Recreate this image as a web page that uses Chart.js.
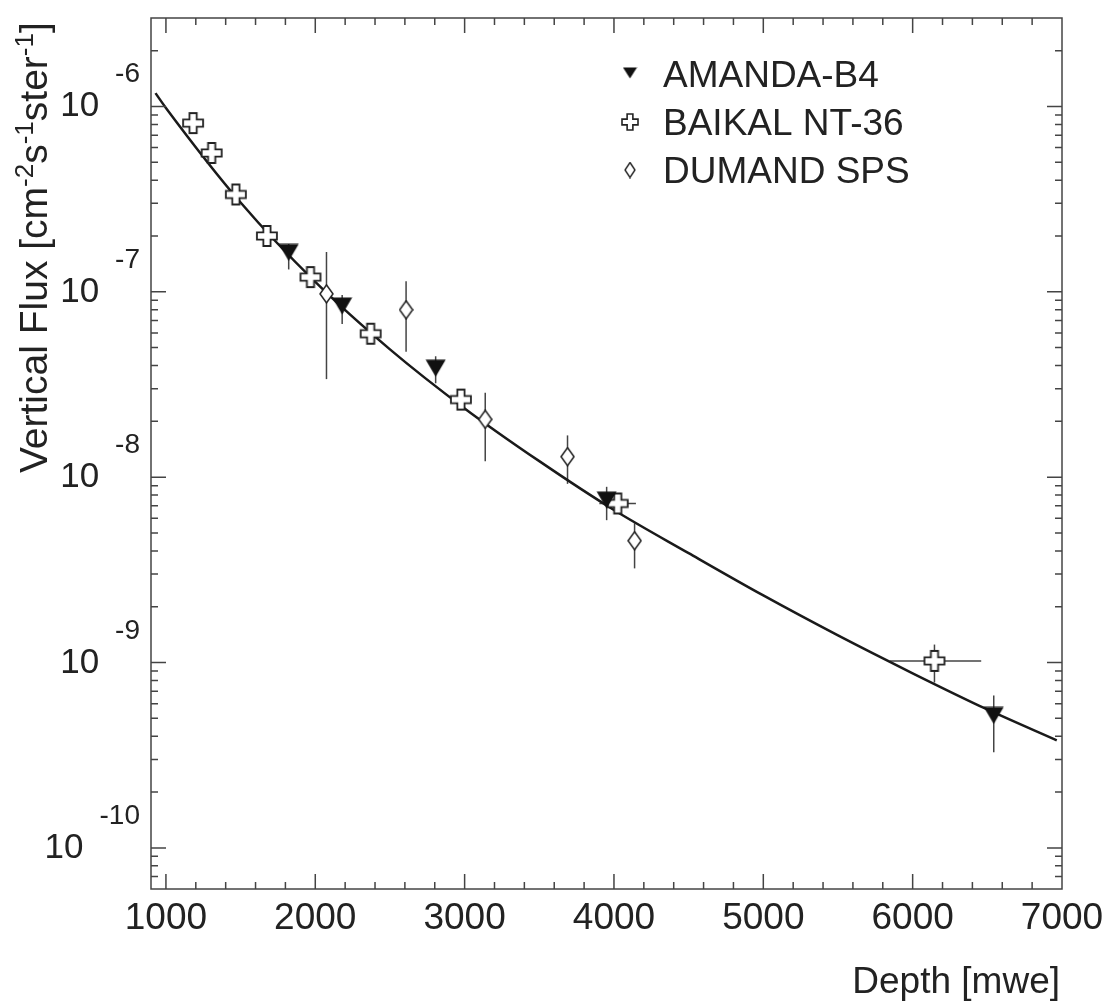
<!DOCTYPE html>
<html lang="en">
<head>
  <meta charset="UTF-8">
  <title>Vertical muon flux vs depth</title>
  <script src="https://cdn.jsdelivr.net/npm/chart.js"></script>
  <style>
    body { margin: 0; background: #fff; }
    canvas { display: block; }
  </style>
</head>
<body>
  <canvas id="fluxChart" width="1109" height="1004"></canvas>

  <script>
    // fitted depth-intensity curve
    const curveDepth = [930, 1000, 1500, 2000, 2500, 3000, 3500, 4000, 4500, 5000, 5500, 6000, 6500, 6965];
    const curveFlux = [1.18e-6, 9.82e-7, 3.03e-7, 1.13e-7, 4.89e-8, 2.35e-8, 1.22e-8, 6.65e-9, 3.89e-9, 2.30e-9, 1.40e-9, 8.75e-10, 5.58e-10, 3.80e-10];

    // AMANDA-B4
    const amandaDepth = [1822, 2180, 2806, 3951, 6543];
    const amandaFlux = [1.63e-7, 8.38e-8, 3.87e-8, 7.52e-9, 5.18e-10];
    const amandaLo = [1.32e-7, 6.71e-8, 3.21e-8, 5.86e-9, 3.28e-10];
    const amandaHi = [1.81e-7, 9.60e-8, 4.49e-8, 8.87e-9, 6.64e-10];

    // BAIKAL NT-36
    const baikalDepth = [1182, 1306, 1468, 1676, 1968, 2371, 2975, 4025, 6146];
    const baikalFlux = [8.13e-7, 5.61e-7, 3.35e-7, 2.00e-7, 1.20e-7, 5.94e-8, 2.62e-8, 7.21e-9, 1.02e-9];
    const baikalLo = [null, null, null, null, null, null, null, null, 7.80e-10];
    const baikalHi = [null, null, null, null, null, null, null, null, 1.25e-9];
    const baikalDepthLo = [null, null, null, null, null, null, null, 3902, 5846];
    const baikalDepthHi = [null, null, null, null, null, null, null, 4147, 6459];

    // DUMAND SPS
    const dumandDepth = [2075, 2608, 3138, 3689, 4138];
    const dumandFlux = [9.75e-8, 8.00e-8, 2.05e-8, 1.29e-8, 4.54e-9];
    const dumandLo = [3.38e-8, 4.75e-8, 1.22e-8, 9.20e-9, 3.22e-9];
    const dumandHi = [1.64e-7, 1.14e-7, 2.85e-8, 1.68e-8, 5.64e-9];

    const xTicks = [1000, 2000, 3000, 4000, 5000, 6000, 7000];
    const yTicks = [1e-10, 1e-9, 1e-8, 1e-7, 1e-6];
    const yTickExp = ['-10', '-9', '-8', '-7', '-6'];

    const FONT = '"Liberation Sans", Arial, sans-serif';
    const INK = '#222';

    function pts(xs, ys) {
      return xs.map((x, i) => ({ x: x, y: ys[i] }));
    }

    // marker images
    function triangleMarker(w, h) {
      const c = document.createElement('canvas');
      c.width = w; c.height = h;
      const g = c.getContext('2d');
      g.fillStyle = '#111';
      g.beginPath();
      g.moveTo(0.5, 0.5);
      g.lineTo(w - 0.5, 0.5);
      g.lineTo(w / 2, h - 0.5);
      g.closePath();
      g.fill();
      return c;
    }

    function crossMarker(w, lw) {
      const s = w + 4;
      const c = document.createElement('canvas');
      c.width = s; c.height = s;
      const g = c.getContext('2d');
      const m = s / 2, a = w / 2, b = w * 0.18;
      g.beginPath();
      g.moveTo(m - b, m - a); g.lineTo(m + b, m - a); g.lineTo(m + b, m - b);
      g.lineTo(m + a, m - b); g.lineTo(m + a, m + b); g.lineTo(m + b, m + b);
      g.lineTo(m + b, m + a); g.lineTo(m - b, m + a); g.lineTo(m - b, m + b);
      g.lineTo(m - a, m + b); g.lineTo(m - a, m - b); g.lineTo(m - b, m - b);
      g.closePath();
      g.fillStyle = '#fff';
      g.fill();
      g.lineWidth = lw;
      g.strokeStyle = '#222';
      g.stroke();
      return c;
    }

    function diamondMarker(w, h, lw) {
      const c = document.createElement('canvas');
      c.width = w + 2; c.height = h + 2;
      const g = c.getContext('2d');
      const cx = (w + 2) / 2, cy = (h + 2) / 2;
      g.beginPath();
      g.moveTo(cx, cy - h / 2); g.lineTo(cx + w / 2, cy);
      g.lineTo(cx, cy + h / 2); g.lineTo(cx - w / 2, cy);
      g.closePath();
      g.fillStyle = '#fff';
      g.fill();
      g.lineWidth = lw;
      g.strokeStyle = '#222';
      g.stroke();
      return c;
    }

    const triBig = triangleMarker(21, 18);
    const crossBig = crossMarker(20, 1.8);
    const diaBig = diamondMarker(13, 18, 1.5);
    const triSmall = triangleMarker(15, 12);
    const crossSmall = crossMarker(16, 1.6);
    const diaSmall = diamondMarker(10, 15, 1.4);

    function drawText(ctx, s, x, y, size, align) {
      ctx.font = size + 'px ' + FONT;
      ctx.textAlign = align || 'left';
      ctx.textBaseline = 'alphabetic';
      ctx.fillText(s, x, y);
    }

    const errorBars = {
      id: 'errorBars',
      beforeDatasetsDraw(chart) {
        const ctx = chart.ctx, xs = chart.scales.x, ys = chart.scales.y;
        ctx.save();
        ctx.strokeStyle = '#444';
        ctx.lineWidth = 1.5;
        function vbar(x, lo, hi) {
          if (lo == null || hi == null) return;
          const px = xs.getPixelForValue(x);
          ctx.beginPath();
          ctx.moveTo(px, ys.getPixelForValue(lo));
          ctx.lineTo(px, ys.getPixelForValue(hi));
          ctx.stroke();
        }
        function hbar(y, lo, hi) {
          if (lo == null || hi == null) return;
          const py = ys.getPixelForValue(y);
          ctx.beginPath();
          ctx.moveTo(xs.getPixelForValue(lo), py);
          ctx.lineTo(xs.getPixelForValue(hi), py);
          ctx.stroke();
        }
        amandaDepth.forEach((d, i) => vbar(d, amandaLo[i], amandaHi[i]));
        dumandDepth.forEach((d, i) => vbar(d, dumandLo[i], dumandHi[i]));
        baikalDepth.forEach((d, i) => {
          vbar(d, baikalLo[i], baikalHi[i]);
          hbar(baikalFlux[i], baikalDepthLo[i], baikalDepthHi[i]);
        });
        ctx.restore();
      }
    };

    const frameAndLabels = {
      id: 'frameAndLabels',
      afterDraw(chart) {
        const ctx = chart.ctx, xs = chart.scales.x, ys = chart.scales.y;
        const a = chart.chartArea;
        ctx.save();
        ctx.strokeStyle = '#444';
        ctx.lineWidth = 1.5;
        ctx.strokeRect(a.left, a.top, a.right - a.left, a.bottom - a.top);

        // x ticks, inward on bottom and top
        ctx.beginPath();
        for (let v = 1000; v < 7000; v += 200) {
          const px = xs.getPixelForValue(v);
          const len = v % 1000 === 0 ? 15 : 7;
          ctx.moveTo(px, a.bottom); ctx.lineTo(px, a.bottom - len);
          ctx.moveTo(px, a.top); ctx.lineTo(px, a.top + len);
        }
        // y ticks, inward on left and right
        for (let e = -11; e <= -6; e++) {
          for (let k = 1; k <= 9; k++) {
            const v = k * Math.pow(10, e);
            if (v <= ys.min || v >= ys.max) continue;
            const py = ys.getPixelForValue(v);
            const len = k === 1 ? 15 : 7;
            ctx.moveTo(a.left, py); ctx.lineTo(a.left + len, py);
            ctx.moveTo(a.right, py); ctx.lineTo(a.right - len, py);
          }
        }
        ctx.stroke();

        ctx.fillStyle = INK;
        // x tick labels
        xTicks.forEach(v => {
          drawText(ctx, String(v), xs.getPixelForValue(v), a.bottom + 40, 37, 'center');
        });
        // y tick labels, 10 with superscript exponent
        yTicks.forEach((v, i) => {
          const py = ys.getPixelForValue(v);
          ctx.font = '28px ' + FONT;
          const ew = ctx.measureText(yTickExp[i]).width;
          drawText(ctx, yTickExp[i], 140, py - 24, 28, 'right');
          drawText(ctx, '10', 140 - ew - 16, py + 10, 35, 'right');
        });

        // x title
        drawText(ctx, 'Depth [mwe]', 1060, 993, 37, 'right');

        // y title, rotated with superscripts
        ctx.save();
        ctx.translate(47, 473);
        ctx.rotate(-Math.PI / 2);
        const parts = [['Vertical Flux [cm', 0], ['-2', 1], ['s', 0], ['-1', 1], ['ster', 0], ['-1', 1], [']', 0]];
        let cx = 0;
        parts.forEach(p => {
          const size = p[1] ? 26 : 39;
          ctx.font = size + 'px ' + FONT;
          ctx.textAlign = 'left';
          ctx.fillText(p[0], cx, p[1] ? -14 : 0);
          cx += ctx.measureText(p[0]).width;
        });
        ctx.restore();

        // legend
        const rows = [
          [triSmall, 'AMANDA-B4', 73, 87],
          [crossSmall, 'BAIKAL NT-36', 122, 135],
          [diaSmall, 'DUMAND SPS', 170, 183]
        ];
        rows.forEach(r => {
          ctx.drawImage(r[0], 630 - r[0].width / 2, r[2] - r[0].height / 2);
          drawText(ctx, r[1], 663, r[3], 37, 'left');
        });
        ctx.restore();
      }
    };

    const ctx = document.getElementById('fluxChart').getContext('2d');
    const fluxChart = new Chart(ctx, {
      type: 'scatter',
      data: {
        datasets: [
          {
            label: 'fit',
            type: 'line',
            data: pts(curveDepth, curveFlux),
            borderColor: '#1a1a1a',
            borderWidth: 2.5,
            pointRadius: 0,
            cubicInterpolationMode: 'monotone',
            fill: false,
            order: 3
          },
          {
            label: 'AMANDA-B4',
            data: pts(amandaDepth, amandaFlux),
            pointStyle: triBig,
            pointRadius: 10,
            order: 0
          },
          {
            label: 'BAIKAL NT-36',
            data: pts(baikalDepth, baikalFlux),
            pointStyle: crossBig,
            pointRadius: 10,
            order: 1
          },
          {
            label: 'DUMAND SPS',
            data: pts(dumandDepth, dumandFlux),
            pointStyle: diaBig,
            pointRadius: 9,
            order: 2
          }
        ]
      },
      options: {
        responsive: false,
        animation: false,
        devicePixelRatio: 1,
        layout: { padding: { left: 151, right: 47, top: 18, bottom: 115 } },
        plugins: {
          legend: { display: false },
          tooltip: { enabled: false }
        },
        scales: {
          x: { type: 'linear', min: 900, max: 7000, display: false },
          y: { type: 'logarithmic', min: 6e-11, max: 3e-6, display: false }
        }
      },
      plugins: [errorBars, frameAndLabels]
    });
  </script>
</body>
</html>
